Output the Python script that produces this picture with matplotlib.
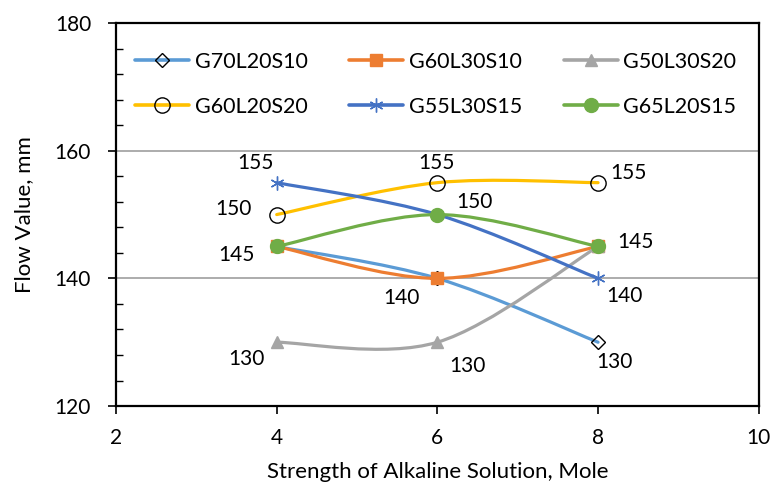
#!/usr/bin/env python

import numpy as np
import matplotlib.pyplot as plt
from matplotlib.path import Path
from matplotlib.patches import PathPatch
from matplotlib.lines import Line2D
from matplotlib.ticker import MultipleLocator

plt.rcParams['font.family'] = ['Lato', 'DejaVu Sans']

# data
strength = [4, 6, 8]
names = ["G70L20S10", "G60L30S10", "G50L30S20",
         "G60L20S20", "G55L30S15", "G65L20S15"]
g70l20s10 = [145, 140, 130]
g60l30s10 = [145, 140, 145]
g50l30s20 = [130, 130, 145]
g60l20s20 = [150, 155, 155]
g55l30s15 = [155, 150, 140]
g65l20s15 = [145, 150, 145]
flow = [g70l20s10, g60l30s10, g50l30s20, g60l20s20, g55l30s15, g65l20s15]

# which point gets a value label (series index, point index)
labelled = [(4, 0), (3, 0), (5, 0), (2, 0),
            (3, 1), (5, 1), (1, 1), (2, 1),
            (3, 2), (5, 2), (4, 2), (0, 2)]
# label offsets in points
label_off = [(-15, 14), (-31, 4), (-29, -6), (-22, -12),
             (-1, 14), (27, 9), (-26, -14), (22, -17),
             (22, 7), (27, 3), (19, -13), (12, -14)]

colors = ["#5B9BD5", "#ED7D31", "#A5A5A5", "#FFC000", "#4472C4", "#70AD47"]
markers = ["D", "s", "^", "o", (6, 2, 0), "o"]
msizes = [7.5, 8, 9, 11, 10, 10]
mface = ["none", "#ED7D31", "#A5A5A5", "none", "#4472C4", "#70AD47"]
medge = ["black", "#ED7D31", "#A5A5A5", "black", "#4472C4", "#70AD47"]


def smooth_path(xs, ys):
	# Excel style smoothed line: bezier segments, catmull-rom control points
	pts = np.column_stack([xs, ys]).astype(float)
	n = len(pts)
	verts = [pts[0]]
	codes = [Path.MOVETO]
	for i in range(n - 1):
		p0 = pts[i - 1] if i > 0 else pts[i]
		p1 = pts[i]
		p2 = pts[i + 1]
		p3 = pts[i + 2] if i + 2 < n else pts[i + 1]
		c1 = p1 + (p2 - p0) / 6.0
		c2 = p2 - (p3 - p1) / 6.0
		verts += [c1, c2, p2]
		codes += [Path.CURVE4] * 3
	return Path(verts, codes)


fig = plt.figure(figsize=(7.75, 4.91), dpi=100)
ax = fig.add_axes([0.1497, 0.173, 0.8293, 0.780])

handles = []
for k in range(len(names)):
	patch = PathPatch(smooth_path(strength, flow[k]), facecolor="none",
		edgecolor=colors[k], lw=2.3, capstyle="round", zorder=3 + k)
	ax.add_patch(patch)
	ax.plot(strength, flow[k], linestyle="none", marker=markers[k], ms=msizes[k],
		mfc=mface[k], mec=medge[k], mew=1.0, zorder=3.5 + k)
	handles.append(Line2D([], [], color=colors[k], lw=2.6, marker=markers[k],
		ms=msizes[k], mfc=mface[k], mec=medge[k], mew=1.0, solid_capstyle="round"))

for (s, i), off in zip(labelled, label_off):
	ax.annotate(str(flow[s][i]), (strength[i], flow[s][i]), xytext=off,
		textcoords="offset points", ha="center", va="center", fontsize=15, zorder=20)

ax.set_xlim(2, 10)
ax.set_ylim(120, 180)
ax.set_xticks([2, 4, 6, 8, 10])
ax.set_yticks([120, 140, 160, 180])
ax.yaxis.set_minor_locator(MultipleLocator(4))
ax.tick_params(axis="both", which="major", direction="out", length=6, width=1.2,
	labelsize=15, pad=12)
ax.tick_params(axis="y", which="minor", direction="in", length=5, width=1.0)
ax.tick_params(axis="x", which="major", pad=10)
for sp in ax.spines.values():
	sp.set_linewidth(1.6)
	sp.set_color("black")

ax.grid(axis="y", which="major", color="#A6A6A6", lw=1.3)
ax.set_axisbelow(True)

ax.set_xlabel("Strength of Alkaline Solution, Mole", fontsize=16, labelpad=10)
ax.set_ylabel("Flow Value, mm", fontsize=16, labelpad=15)

# legend is filled column by column, so reorder to read row by row
order = [0, 3, 1, 4, 2, 5]
ax.legend([handles[i] for i in order], [names[i] for i in order],
	loc="upper left", bbox_to_anchor=(0.0, 0.975), ncol=3,
	frameon=False, fontsize=15.5, handlelength=2.5, columnspacing=1.95,
	labelspacing=1.15, handletextpad=0.25)

fig.savefig("out.png")
